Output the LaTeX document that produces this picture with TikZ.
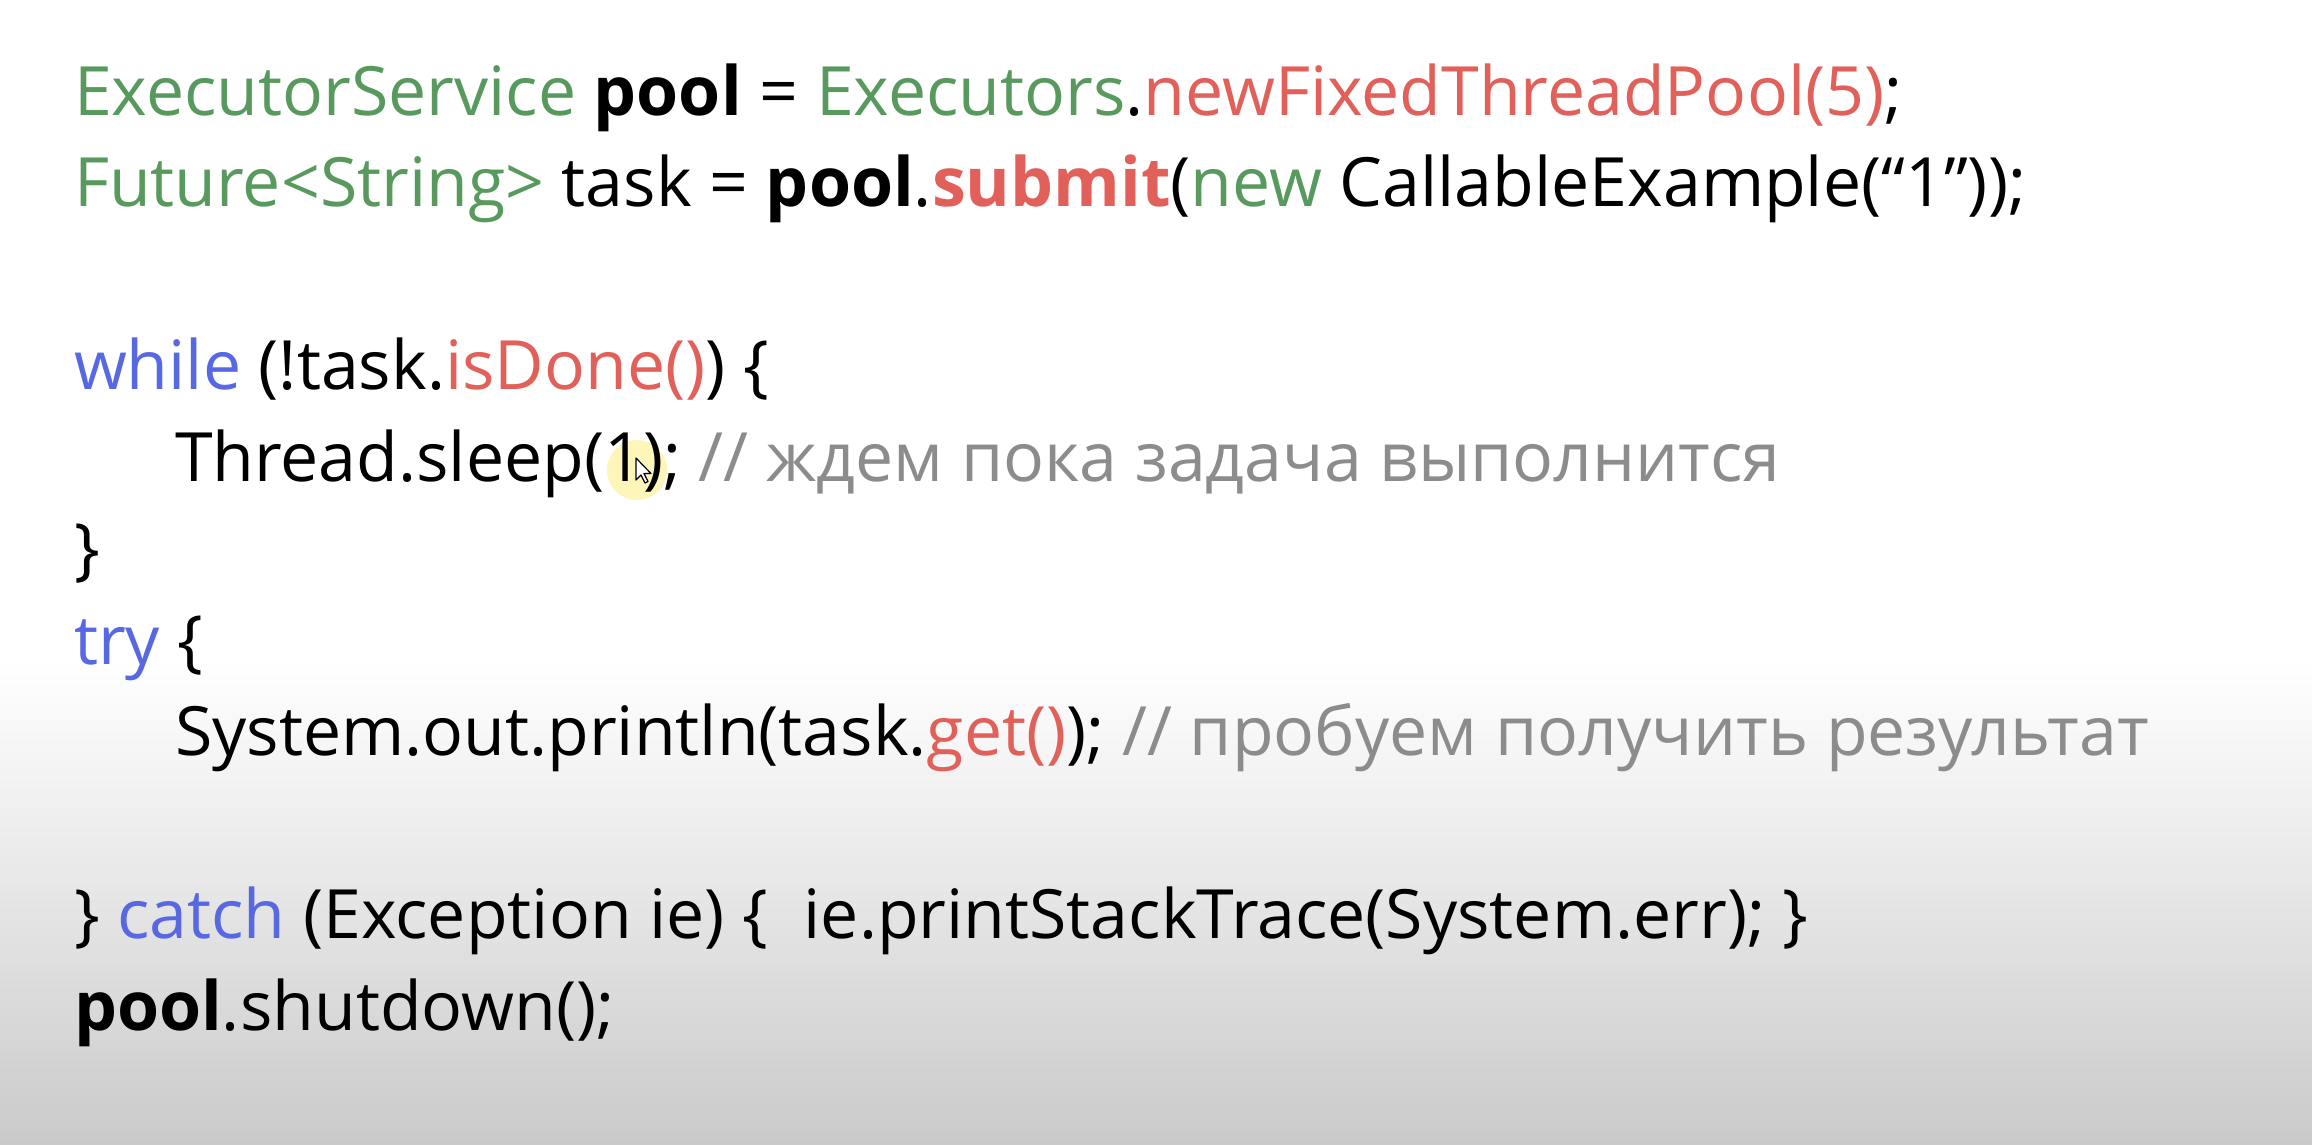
\documentclass[tikz,border=0pt]{standalone}
\usepackage{fontspec}
\setmainfont{Open Sans}
\usetikzlibrary{shadings}
\definecolor{jgreen}{RGB}{88,154,94}
\definecolor{jred}{RGB}{226,96,90}
\definecolor{jblue}{RGB}{88,104,226}
\definecolor{jgray}{RGB}{140,140,140}
\definecolor{bgmid}{RGB}{234,234,234}
\definecolor{bgbot}{RGB}{202,202,202}
\tikzset{
  code/.style={anchor=base west, inner sep=0pt, outer sep=0pt, text=black,
    font=\fontsize{68}{80}\selectfont},
}
\newcommand{\kg}[1]{\textcolor{jgreen}{#1}}
\newcommand{\kr}[1]{\textcolor{jred}{#1}}
\newcommand{\kb}[1]{\textcolor{jblue}{#1}}
\newcommand{\kc}[1]{\textcolor{jgray}{#1}}
\begin{document}
\begin{tikzpicture}[x=1pt,y=1pt]
\useasboundingbox (0,0) rectangle (2312,-1144);
\fill[white] (0,0) rectangle (2312,-660);
\shade[top color=white, bottom color=bgmid] (0,-660) rectangle (2312,-860);
\shade[top color=bgmid, bottom color=bgbot] (0,-860) rectangle (2312,-1144);
% cursor highlight
\fill[yellow!80!orange!60, opacity=0.45] (637,-470) circle (30);
\node[code] (l1) at (74,-115) {\kg{ExecutorService} \textbf{pool} = \kg{Executors}.\kr{newFixedThreadPool(5)};};
\node[code] (l2) at (74,-206) {\kg{Future<String>} task = \textbf{pool}.\textbf{\kr{submit}}(\kg{new} CallableExample(“1\symbol{34}));};
\node[code] (l3) at (74,-389) {\kb{while} (!task.\kr{isDone()}) \{};
\node[code] (l4) at (175,-481) {Thread.sleep(1); \kc{// ждем пока задача выполнится}};
\node[code] (l5) at (74,-572) {\}};
\node[code] (l6) at (74,-664) {\kb{try} \{};
\node[code] (l7) at (175,-755) {System.out.println(task.\kr{get()}); \kc{// пробуем получить результат}};
\node[code] (l8) at (74,-938) {\} \kb{catch} (Exception ie) \{\ \ ie.printStackTrace(System.err); \}};
\node[code] (l9) at (74,-1030) {\textbf{pool}.shutdown();};
% mouse pointer
\coordinate (ptip) at (636,-458);
\draw[black, fill=white, line width=1.2pt, line join=round]
  (ptip) -- ++(0,-22) -- ++(5,5) -- ++(4,-8) -- ++(3,1.5) -- ++(-4,8) -- ++(7,0) -- cycle;
\end{tikzpicture}
\end{document}
